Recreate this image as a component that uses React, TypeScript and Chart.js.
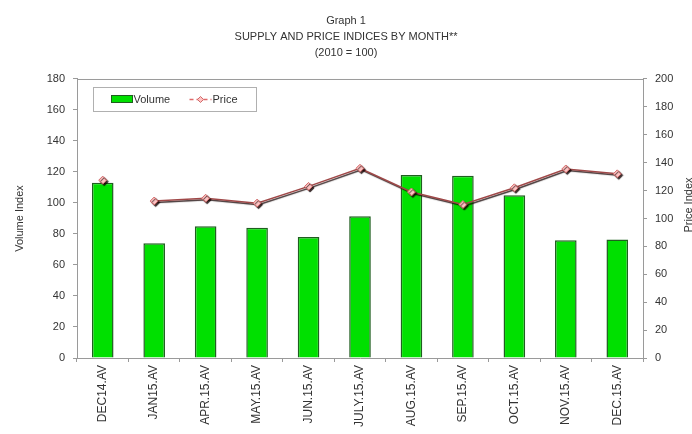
import React, { useEffect, useRef } from "react";
import { Chart, registerables } from "chart.js";

Chart.register(...registerables);

const categories = [
  "DEC14.AV", "JAN15.AV", "APR.15.AV", "MAY.15.AV", "JUN.15.AV", "JULY.15.AV",
  "AUG.15.AV", "SEP.15.AV", "OCT.15.AV", "NOV.15.AV", "DEC.15.AV",
];
const volumeValues = [113, 74, 85, 84, 78, 91.5, 118, 117.5, 105, 76, 76.5];
const priceValues = [127.5, 112.5, 114.5, 111, 123, 136, 119, 110, 122, 135.5, 132];
const titleLines = ["Graph 1", "SUPPLY AND PRICE INDICES BY MONTH**", "(2010 = 100)"];
const leftAxisTitle = "Volume Index";
const rightAxisTitle = "Price Index";
const seriesNames = ["Volume", "Price"];

const FONT = "'Liberation Sans', Arial, sans-serif";
const TEXT = "#333333";
const AXIS = "#9a9a9a";
const GREEN = "#00e000";
const GREEN_BORDER = "#1f5f1f";
const LINE = "#a04848";
const POINT_FILL = "#ffc4c4";
const POINT_BORDER = "#d06868";

const decorPlugin = {
  id: "decor",
  beforeDatasetDraw(chart: any, args: any) {
    if (args.index === 1) {
      const ctx = chart.ctx;
      ctx.save();
      ctx.shadowColor = "rgba(20,0,0,0.85)";
      ctx.shadowOffsetX = 1.5;
      ctx.shadowOffsetY = 1.5;
      ctx.shadowBlur = 1;
    }
  },
  afterDatasetDraw(chart: any, args: any) {
    if (args.index === 1) chart.ctx.restore();
  },
  afterDraw(chart: any) {
    const ctx = chart.ctx;
    const a = chart.chartArea;
    ctx.save();
    // top border of plot area
    ctx.strokeStyle = AXIS;
    ctx.lineWidth = 1;
    ctx.beginPath();
    ctx.moveTo(a.left, a.top + 0.5);
    ctx.lineTo(a.right, a.top + 0.5);
    ctx.stroke();

    // legend box
    const lx = a.left + 16.5;
    const ly = a.top + 8.5;
    ctx.fillStyle = "#ffffff";
    ctx.fillRect(lx, ly, 163, 24);
    ctx.strokeStyle = "#b0b0b0";
    ctx.strokeRect(lx, ly, 163, 24);
    const cy = ly + 12;
    ctx.fillStyle = GREEN;
    ctx.fillRect(lx + 18, cy - 4, 21, 7);
    ctx.strokeStyle = GREEN_BORDER;
    ctx.lineWidth = 1;
    ctx.strokeRect(lx + 18, cy - 4, 21, 7);
    ctx.font = `11px ${FONT}`;
    ctx.fillStyle = TEXT;
    ctx.textBaseline = "middle";
    ctx.textAlign = "left";
    ctx.fillText(seriesNames[0], lx + 40, cy);
    ctx.strokeStyle = "#e06a6a";
    ctx.setLineDash([4, 3]);
    ctx.lineWidth = 1.5;
    ctx.beginPath();
    ctx.moveTo(lx + 96, cy);
    ctx.lineTo(lx + 118, cy);
    ctx.stroke();
    ctx.setLineDash([]);
    ctx.fillStyle = POINT_FILL;
    ctx.strokeStyle = POINT_BORDER;
    ctx.lineWidth = 1;
    ctx.beginPath();
    ctx.moveTo(lx + 107, cy - 3);
    ctx.lineTo(lx + 110, cy);
    ctx.lineTo(lx + 107, cy + 3);
    ctx.lineTo(lx + 104, cy);
    ctx.closePath();
    ctx.fill();
    ctx.stroke();
    ctx.fillStyle = TEXT;
    ctx.fillText(seriesNames[1], lx + 119, cy);

    // right axis title (reads bottom to top)
    ctx.translate(689, 205);
    ctx.rotate(-Math.PI / 2);
    ctx.textAlign = "center";
    ctx.textBaseline = "middle";
    ctx.font = `11px ${FONT}`;
    ctx.fillStyle = TEXT;
    ctx.fillText(rightAxisTitle, 0, 0);
    ctx.restore();
  },
};

export default function App() {
  const ref = useRef<HTMLCanvasElement | null>(null);

  useEffect(() => {
    document.body.style.margin = "0";
    const canvas = ref.current;
    if (!canvas) return;
    const chart = new Chart(canvas, {
      type: "bar",
      data: {
        labels: categories,
        datasets: [
          {
            type: "bar",
            label: seriesNames[0],
            data: volumeValues,
            yAxisID: "y",
            backgroundColor: GREEN,
            borderColor: GREEN_BORDER,
            borderWidth: 1.5,
            barPercentage: 0.42,
            categoryPercentage: 1,
            order: 2,
          } as any,
          {
            type: "line",
            label: seriesNames[1],
            data: priceValues,
            yAxisID: "y1",
            borderColor: LINE,
            borderWidth: 1.5,
            pointStyle: "rectRot",
            pointRadius: 4,
            pointBackgroundColor: POINT_FILL,
            pointBorderColor: POINT_BORDER,
            pointBorderWidth: 1,
            tension: 0,
            order: 1,
            segment: {
              borderColor: (c: any) => (c.p0DataIndex === 0 ? "rgba(0,0,0,0)" : LINE),
            },
          } as any,
        ],
      },
      options: {
        responsive: false,
        animation: false,
        devicePixelRatio: 1,
        layout: { padding: 0 },
        plugins: {
          legend: { display: false },
          tooltip: { enabled: false },
          title: {
            display: true,
            text: titleLines,
            color: TEXT,
            font: { family: FONT, size: 11, weight: "normal", lineHeight: 1.4545 },
            padding: { top: 13, bottom: 18 },
          },
        },
        scales: {
          x: {
            type: "category",
            offset: true,
            grid: {
              offset: true,
              drawOnChartArea: false,
              drawTicks: true,
              tickLength: 4,
              color: AXIS,
            },
            border: { color: AXIS, width: 1 },
            ticks: {
              autoSkip: false,
              minRotation: 90,
              maxRotation: 90,
              padding: 3,
              color: TEXT,
              font: { family: FONT, size: 12 },
            },
            afterFit: (s: any) => {
              s.height = 76;
            },
          },
          y: {
            position: "left",
            min: 0,
            max: 180,
            ticks: {
              stepSize: 20,
              padding: 8,
              color: TEXT,
              font: { family: FONT, size: 11 },
            },
            grid: { drawOnChartArea: false, tickLength: 4, color: AXIS },
            border: { color: AXIS, width: 1 },
            title: {
              display: true,
              text: leftAxisTitle,
              color: TEXT,
              font: { family: FONT, size: 11 },
              padding: { top: 13, bottom: 0 },
            },
            afterFit: (s: any) => {
              s.width = 77;
            },
          },
          y1: {
            position: "right",
            min: 0,
            max: 200,
            ticks: {
              stepSize: 20,
              padding: 8,
              color: TEXT,
              font: { family: FONT, size: 11 },
            },
            grid: { drawOnChartArea: false, tickLength: 4, color: AXIS },
            border: { color: AXIS, width: 1 },
            afterFit: (s: any) => {
              s.width = 49;
            },
          },
        },
      } as any,
      plugins: [decorPlugin],
    });
    return () => chart.destroy();
  }, []);

  return (
    <div style={{ width: 692, height: 434, background: "#ffffff" }}>
      <canvas ref={ref} width={692} height={434} style={{ display: "block", width: 692, height: 434 }} />
    </div>
  );
}
